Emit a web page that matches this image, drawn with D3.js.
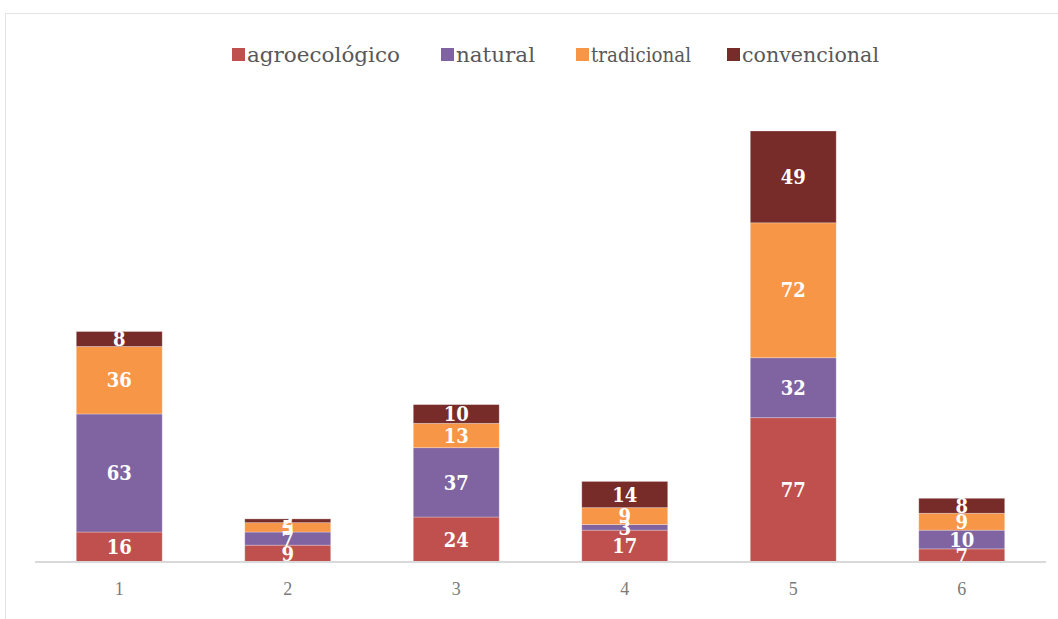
<!DOCTYPE html>
<html><head><meta charset="utf-8">
<script src="https://cdn.jsdelivr.net/npm/d3@7"></script>
<style>body{margin:0;background:#fff;}svg{display:block;}</style>
</head><body>
<script>
const categories = ["1","2","3","4","5","6"];
const seriesNames = ["agroecológico","natural","tradicional","convencional"];
const agroecologico = [16, 9, 24, 17, 77, 7];
const natural = [63, 7, 37, 3, 32, 10];
const tradicional = [36, 5, 13, 9, 72, 9];
const convencional = [8, 2, 10, 14, 49, 8];
const colors = ["#c0504d","#8064a2","#f79646","#772c2a"];

const W = 1058, H = 619;
const svg = d3.select("body").append("svg").attr("width", W).attr("height", H);

svg.append("rect").attr("x", 5.5).attr("y", 13.5).attr("width", W).attr("height", H)
  .attr("fill", "#fff").attr("stroke", "#e3e3e3");

const rows = categories.map((c, i) => ({cat: c, "agroecológico": agroecologico[i], "natural": natural[i], "tradicional": tradicional[i], "convencional": convencional[i]}));
const stack = d3.stack().keys(seriesNames)(rows);

const x = d3.scaleBand().domain(categories).range([35, 1046]).paddingInner(0.49).paddingOuter(0.245);
const y = d3.scaleLinear().domain([0, 230]).range([562, 131]);
const color = d3.scaleOrdinal().domain(seriesNames).range(colors);

const g = svg.append("g");
stack.forEach(s => {
  g.selectAll(null).data(s).enter().append("rect")
    .attr("x", d => x(d.data.cat))
    .attr("width", x.bandwidth())
    .attr("y", d => y(d[1]))
    .attr("height", d => y(d[0]) - y(d[1]))
    .attr("fill", color(s.key))
    .attr("stroke", "rgba(255,255,255,0.35)").attr("stroke-width", 0.8);
});

stack.forEach(s => {
  g.selectAll(null).data(s).enter().append("text")
    .attr("x", d => x(d.data.cat) + x.bandwidth()/2)
    .attr("y", d => (y(d[0]) + y(d[1]))/2)
    .attr("dy", "0.36em")
    .attr("text-anchor", "middle")
    .attr("fill", "#fff")
    .attr("font-family", "DejaVu Serif Condensed, DejaVu Serif")
    .attr("font-weight", "bold")
    .attr("font-size", 20)
    .text(d => d[1] - d[0]);
});

// axis
const axis = svg.append("g").attr("transform", "translate(0,562)")
  .call(d3.axisBottom(x).tickSize(0).tickPadding(20));
axis.select(".domain").attr("stroke", "#d9d9d9").attr("stroke-width", 2)
  .attr("d", "M35,0H1046");
axis.selectAll("text").attr("fill", "#7a7a7a")
  .attr("font-family", "Liberation Serif").attr("font-size", 18);

// legend
const legendX = [232, 441, 576, 727];
const legendW = [153, 79, 100, 137];
const leg = svg.append("g").attr("transform", "translate(0,55)");
seriesNames.forEach((n, i) => {
  leg.append("rect").attr("x", legendX[i]).attr("y", -7).attr("width", 13).attr("height", 13).attr("fill", colors[i]);
  leg.append("text").attr("x", legendX[i] + 15).attr("y", 0).attr("dy", "0.35em")
    .attr("fill", "#595959")
    .attr("font-family", "DejaVu Serif Condensed, DejaVu Serif")
    .attr("font-size", 21)
    .attr("textLength", legendW[i]).attr("lengthAdjust", "spacingAndGlyphs")
    .text(n);
});
</script>
</body></html>
